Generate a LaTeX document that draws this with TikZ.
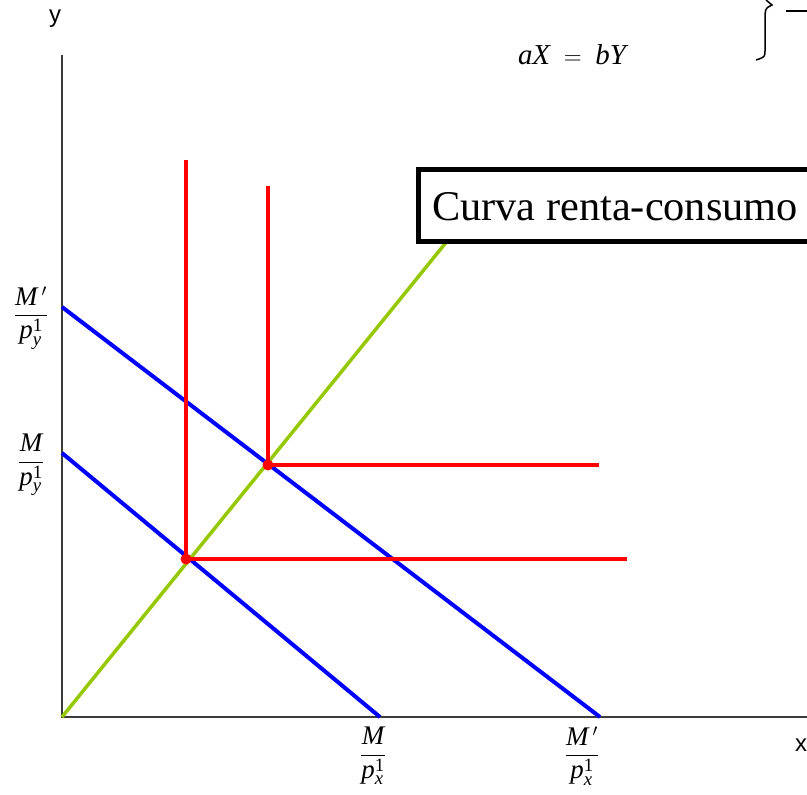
\documentclass[tikz,border=0pt]{standalone}
\usepackage{amsmath}
\usepackage{fontspec}
\setmainfont{Liberation Serif}
\newfontfamily\arialfont{Liberation Sans}
\newfontfamily\timesfont{Liberation Serif}
\definecolor{axisgray}{RGB}{60,60,60}
\definecolor{lgreen}{RGB}{150,200,0}
\definecolor{bblue}{RGB}{0,0,255}
\definecolor{rred}{RGB}{255,0,0}
\tikzset{
  axisline/.style={draw=axisgray,line width=2bp},
  budget/.style={draw=bblue,line width=4bp},
  indiff/.style={draw=rred,line width=3.5bp},
  icc/.style={draw=lgreen,line width=3.5bp},
  lbl/.style={inner sep=0pt,font=\fontsize{27}{30}\selectfont},
  dotmark/.style={fill=rred,circle,inner sep=0pt,minimum size=11bp},
}
\newcommand{\ti}[1]{\text{\timesfont\itshape #1}}
\newcommand{\myfr}[2]{$\dfrac{#1}{#2}$}
\begin{document}
\begin{tikzpicture}[x=1bp,y=-1bp]
\useasboundingbox (0,0) rectangle (807,795);
\clip (0,0) rectangle (807,795);
% coordinates
\coordinate (O) at (62,717);
\coordinate (ytop) at (62,55);
\coordinate (xend) at (807,717);
\coordinate (b1a) at (62,453);
\coordinate (b1b) at (380,717);
\coordinate (b2a) at (62,307);
\coordinate (b2b) at (600,717);
\coordinate (E1) at (186,559);
\coordinate (E2) at (268,465);
\coordinate (v1) at (186,160);
\coordinate (h1) at (627,559);
\coordinate (v2) at (268,186);
\coordinate (h2) at (599,465);
\coordinate (gend) at (448,240);
% axes
\draw[axisline] (ytop) -- (O) -- (xend);
% income-consumption curve
\draw[icc] (O) -- (gend);
% budget lines
\draw[budget] (b1a) -- (b1b);
\draw[budget] (b2a) -- (b2b);
% indifference curves (L-shaped)
\draw[indiff] (v1) -- (E1) -- (h1);
\draw[indiff] (v2) -- (E2) -- (h2);
\node[dotmark] (d1) at (E1) {};
\node[dotmark] (d2) at (E2) {};
% box
\node[draw=black,line width=4.5bp,anchor=north west,minimum width=420bp,minimum height=72bp,inner sep=0pt] (box) at (416,167) {};
\node[anchor=west,inner sep=0pt,font=\fontsize{42.5}{46}\selectfont] (boxtxt) at (432,207) {Curva renta-consumo};
% labels
\node[font=\arialfont\fontsize{24}{26}\selectfont,inner sep=0pt] (ylab) at (55,19) {y};
\node[font=\arialfont\fontsize{24}{26}\selectfont,inner sep=0pt,anchor=west] (xlab) at (795,745) {x};
\node[inner sep=0pt,font=\fontsize{29}{32}\selectfont] (eq) at (572,55) {$\ti{aX}\;=\;\ti{bY}$};
\node[lbl] (lMpy) at (31,318) {\myfr{\ti{M}\,'}{\ti{p}^{\textrm{1}}_{\ti{y}}}};
\node[lbl] (Mpy) at (31,465) {\myfr{\ti{M}}{\ti{p}^{\textrm{1}}_{\ti{y}}}};
\node[lbl] (Mpx) at (373,756) {\myfr{\ti{M}}{\ti{p}^{\textrm{1}}_{\ti{x}}}};
\node[lbl] (lMpx) at (582,756) {\myfr{\ti{M}\,'}{\ti{p}^{\textrm{1}}_{\ti{x}}}};
% partial brace and rule at top right
\coordinate (br0) at (766,0);
\coordinate (br1) at (772,5);
\coordinate (br2) at (765,14);
\coordinate (br3) at (765,50);
\coordinate (br4) at (756,60);
\draw[line width=1.5bp,black] (br0) -- (br1) .. controls (766,8) .. (br2) -- (br3) .. controls (765,57) .. (br4);
\coordinate (r1) at (786,11);
\coordinate (r2) at (807,11);
\draw[line width=2bp,black] (r1) -- (r2);
\end{tikzpicture}
\end{document}
